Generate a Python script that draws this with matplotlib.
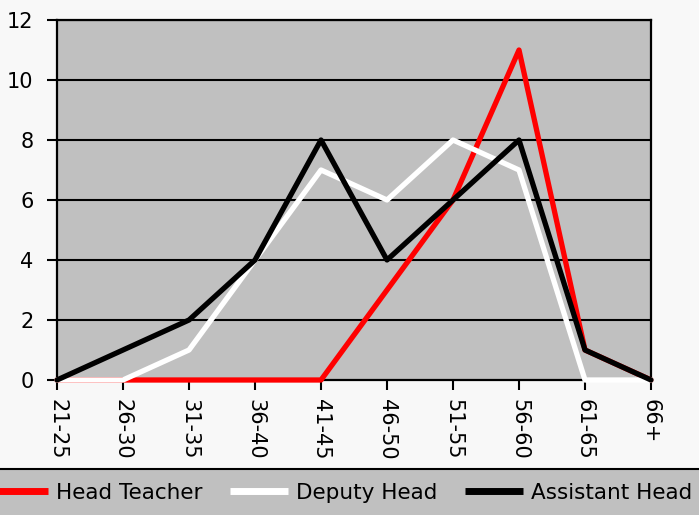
import matplotlib
matplotlib.use("Agg")
import matplotlib.pyplot as plt
from matplotlib.patches import Rectangle
from matplotlib.lines import Line2D

categories = ["21-25", "26-30", "31-35", "36-40", "41-45", "46-50", "51-55", "56-60", "61-65", "66+"]
head_teacher = [0, 0, 0, 0, 0, 3, 6, 11, 1, 0]
deputy_head = [0, 0, 1, 4, 7, 6, 8, 7, 0, 0]
assistant_head = [0, 1, 2, 4, 8, 4, 6, 8, 1, 0]
yticks = [0, 2, 4, 6, 8, 10, 12]

fig = plt.figure(figsize=(6.99, 5.15), dpi=100)
fig.patch.set_facecolor("#f8f8f8")

ax = fig.add_axes([57/699, 1-380/515, (651-57)/699, 360/515])
ax.set_facecolor("#c0c0c0")

x = list(range(len(categories)))
kw = dict(lw=3.8, solid_joinstyle="round", solid_capstyle="round", clip_on=False)
ax.plot(x, head_teacher, color="#ff0000", label="Head Teacher", zorder=3, **kw)
ax.plot(x, deputy_head, color="#ffffff", label="Deputy Head", zorder=4, **kw)
ax.plot(x, assistant_head, color="#000000", label="Assistant Head", zorder=5, **kw)

ax.set_xlim(0, len(categories)-1)
ax.set_ylim(0, 12)
ax.set_yticks(yticks)
ax.set_yticklabels([str(v) for v in yticks], fontsize=15)
ax.set_xticks(x)
ax.set_xticklabels(categories, rotation=270, fontsize=15)
ax.tick_params(axis="both", direction="out", length=7, width=1.5, color="black")
ax.tick_params(axis="x", pad=7)
ax.tick_params(axis="y", pad=10)
for v in yticks[1:]:
    ax.axhline(v, color="black", lw=1.5, zorder=1)
for s in ax.spines.values():
    s.set_color("black")
    s.set_linewidth(1.6)

# legend band
fig.patches.append(Rectangle((0, 0), 1, 45/515, transform=fig.transFigure,
                             facecolor="#c0c0c0", edgecolor="none", zorder=0))
fig.lines.append(Line2D([0, 1], [46/515, 46/515], transform=fig.transFigure, color="black", lw=1.5))

handles, labels = ax.get_legend_handles_labels()
leg = fig.legend(handles, labels, loc="center", bbox_to_anchor=(0.488, 22/515), ncol=3,
                 frameon=False, fontsize=15.5, handlelength=2.7, columnspacing=1.3, handletextpad=0.35)
for h in leg.get_lines():
    h.set_linewidth(5)
    h.set_solid_capstyle("butt")

fig.savefig("out.png", dpi=100, facecolor=fig.get_facecolor())
